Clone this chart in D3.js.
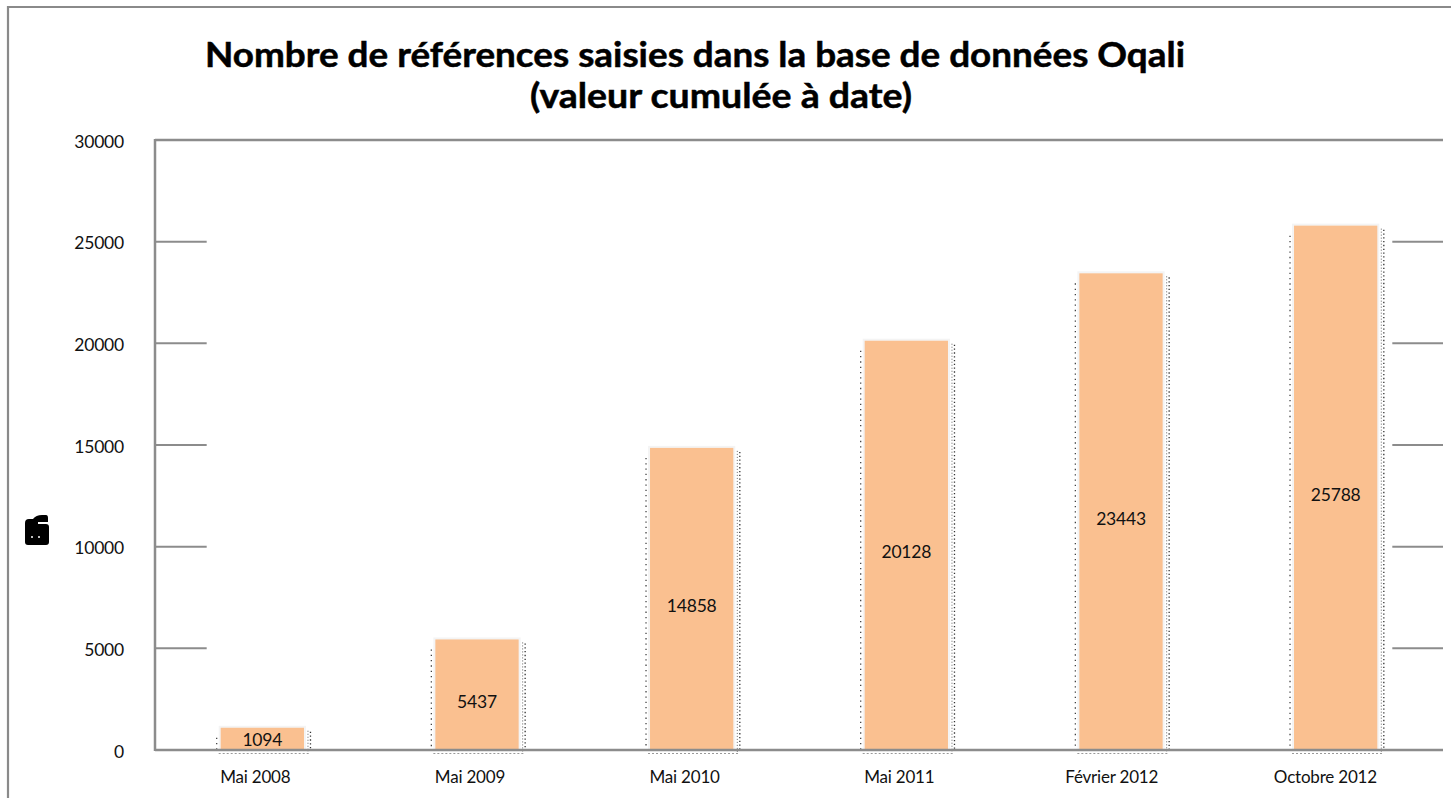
<!DOCTYPE html>
<html><head><meta charset="utf-8">
<script src="https://cdn.jsdelivr.net/npm/d3@7"></script>
<style>body{margin:0;background:#fff;} svg{display:block}</style>
</head><body><svg id="c" width="1451" height="798"></svg>
<script>
const categories = ["Mai 2008","Mai 2009","Mai 2010","Mai 2011","Février 2012","Octobre 2012"];
const values = [1094,5437,14858,20128,23443,25788];
const yTicks = [0,5000,10000,15000,20000,25000,30000];
const titleLines = ["Nombre de références saisies dans la base de données Oqali","(valeur cumulée à date)"];

const svg = d3.select("#c");
const W = 1451, H = 798;
const m = {left:155, right:1443, top:140, bottom:750};
const axisCol = "#8c8c8c";
const barCol = "#FAC090";
const font = "Lato, 'Open Sans', sans-serif";

const x = d3.scaleBand().domain(categories).range([m.left, m.right]).paddingInner(0.612).paddingOuter(0.306);
const y = d3.scaleLinear().domain([0, 30000]).range([m.bottom, m.top]);
const bw = x.bandwidth();

// outer frame
svg.append("path").attr("d", `M8,${H} L8,7 L${W},7`).attr("fill","none").attr("stroke","#8a8a8a").attr("stroke-width",2.2);

// title
const tw = [980, 382];
const tx = [695, 721];
const ty = [67, 108];
titleLines.forEach((t,i)=>{
  svg.append("text").attr("x", tx[i]).attr("y", ty[i]).attr("text-anchor","middle")
    .attr("font-family", font).attr("font-weight", 700).attr("font-size", 34)
    .attr("stroke","#000").attr("stroke-width",0.5)
    .attr("textLength", tw[i]).attr("lengthAdjust","spacingAndGlyphs")
    .attr("fill","#000").text(t);
});

// partial gridlines (visible only outside the bar area)
const gx1 = x(categories[0]) - 14;
const gx2 = x(categories[categories.length-1]) + bw + 15;
const g = svg.append("g");
yTicks.filter(v => v > 0 && v < 30000).forEach(v=>{
  g.append("line").attr("x1", m.left).attr("x2", gx1).attr("y1", y(v)).attr("y2", y(v)).attr("stroke", axisCol).attr("stroke-width", 2);
  g.append("line").attr("x1", gx2).attr("x2", m.right).attr("y1", y(v)).attr("y2", y(v)).attr("stroke", axisCol).attr("stroke-width", 2);
});

// bars
const bars = svg.append("g");
categories.forEach((c,i)=>{
  const v = values[i];
  const bx = x(c), by = y(v), bh = y(0) - y(v);
  bars.append("rect").attr("x", bx-2).attr("y", by-2).attr("width", bw+4).attr("height", bh+2).attr("fill","#f4f4f4");
  bars.append("rect").attr("x", bx).attr("y", by).attr("width", bw).attr("height", bh).attr("fill", barCol);
  bars.append("line").attr("x1", bx-4).attr("x2", bx-4).attr("y1", Math.min(by+10, y(0)-6)).attr("y2", y(0))
    .attr("stroke","#444").attr("stroke-width",1.3).attr("stroke-dasharray","1.3 4");
  bars.append("line").attr("x1", bx+bw+4).attr("x2", bx+bw+4).attr("y1", by+3).attr("y2", y(0)+2)
    .attr("stroke","#666").attr("stroke-width",1).attr("stroke-dasharray","1 2");
  bars.append("line").attr("x1", bx+bw+6.5).attr("x2", bx+bw+6.5).attr("y1", by+4).attr("y2", y(0))
    .attr("stroke","#333").attr("stroke-width",1.3).attr("stroke-dasharray","1.3 2.5");
  bars.append("line").attr("x1", bx-2).attr("x2", bx+bw+5).attr("y1", y(0)+3.5).attr("y2", y(0)+3.5)
    .attr("stroke","#999").attr("stroke-width",1).attr("stroke-dasharray","2 2");
  const ly = Math.min((by + y(0))/2 + 7, y(0) - 10);
  bars.append("text").attr("x", bx + bw/2).attr("y", ly).attr("dy","0.35em")
    .attr("text-anchor","middle").attr("font-family", font).attr("font-size", 17.5).attr("fill","#111")
    .attr("letter-spacing", -0.2)
    .text(v);
});

// axis lines
svg.append("line").attr("x1", m.left).attr("x2", m.left).attr("y1", m.top-1).attr("y2", m.bottom+1).attr("stroke", axisCol).attr("stroke-width", 2.5);
svg.append("line").attr("x1", m.left).attr("x2", m.right).attr("y1", m.top).attr("y2", m.top).attr("stroke", axisCol).attr("stroke-width", 2.5);
svg.append("line").attr("x1", m.left).attr("x2", m.right).attr("y1", m.bottom).attr("y2", m.bottom).attr("stroke", axisCol).attr("stroke-width", 2.5);

// y axis labels
const ya = svg.append("g").attr("transform", `translate(${m.left},0)`)
  .call(d3.axisLeft(y).tickValues(yTicks).tickSize(0).tickPadding(31).tickFormat(d3.format("d")));
ya.select(".domain").remove();
ya.selectAll("text").attr("font-family", font).attr("font-size", 17.5).attr("fill","#111").attr("dy","0.4em").attr("letter-spacing", -0.2);

// x axis labels
const xa = svg.append("g").attr("transform", `translate(0,${m.bottom})`)
  .call(d3.axisBottom(x).tickSize(0).tickPadding(21));
xa.select(".domain").remove();
xa.selectAll("text").attr("font-family", font).attr("font-size", 17).attr("fill","#111").attr("letter-spacing", -0.2)
  .each(function(){ const w = this.getComputedTextLength(); d3.select(this).attr("dx", -w*0.1); });

// garbled y-axis title glyph
svg.append("path")
  .attr("d","M25,523 Q25,519 29,519 L33,519 Q36,515 42,515 L46,515 Q48,515 48,518 L48,522 L38,522 L38,524 L46,524 Q49,524 49,527 L49,542 Q49,545 46,545 L28,545 Q25,545 25,542 Z")
  .attr("fill","#000");
svg.append("circle").attr("cx",32).attr("cy",537).attr("r",1).attr("fill","#fff");
svg.append("circle").attr("cx",39).attr("cy",537).attr("r",1).attr("fill","#fff");
</script>
</body></html>
